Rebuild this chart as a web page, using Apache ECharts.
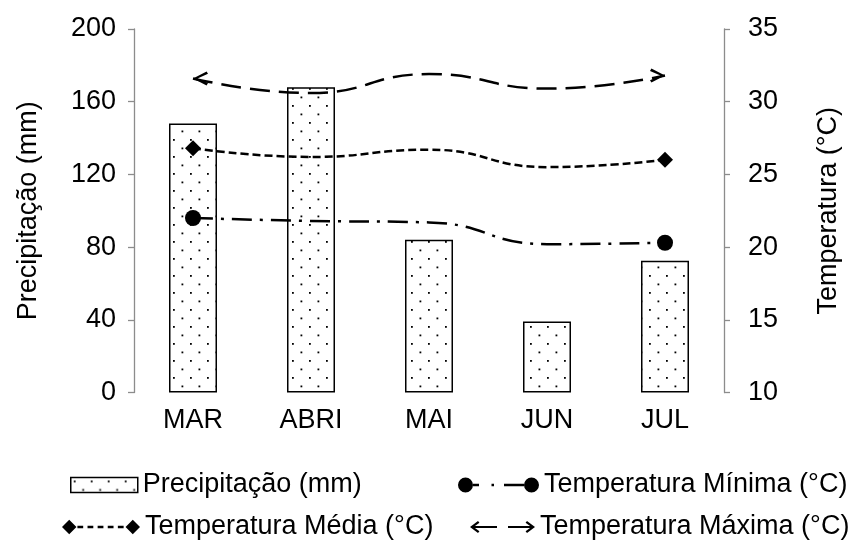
<!DOCTYPE html>
<html>
<head>
<meta charset="utf-8">
<script src="https://cdn.jsdelivr.net/npm/echarts@6/dist/echarts.min.js"></script>
<style>
  html, body { margin: 0; padding: 0; background: #fff; }
  #chart { width: 855px; height: 541px; }
</style>
</head>
<body>
<div id="chart"></div>
<script>
// Monthly rainfall and temperatures
const months = ['MAR', 'ABRI', 'MAI', 'JUN', 'JUL'];
const precipitacao = [148, 168, 84, 39, 72.5];      // mm
const tempMinima = [22.0, 21.8, 21.7, 20.2, 20.3];  // °C
const tempMedia = [26.8, 26.2, 26.7, 25.5, 26.0];   // °C
const tempMaxima = [31.6, 30.6, 31.9, 30.9, 31.8];  // °C

const precipRange = [0, 200];
const precipStep = 40;
const tempRange = [10, 35];
const tempStep = 5;

const names = {
  precip: 'Precipitação (mm)',
  min: 'Temperatura Mínima (°C)',
  med: 'Temperatura Média (°C)',
  max: 'Temperatura Máxima (°C)'
};

const FONT = '"Liberation Sans", Arial, sans-serif';
const FS = 27;

// staggered dot fill for the bars
function dotPattern() {
  const c = document.createElement('canvas');
  c.width = 17; c.height = 17;
  const g = c.getContext('2d');
  g.fillStyle = '#fff';
  g.fillRect(0, 0, 17, 17);
  g.fillStyle = '#000';
  g.fillRect(3, 3, 1.8, 1.8);
  g.fillRect(11.5, 11.5, 1.8, 1.8);
  return c;
}

// open arrow heads for the maximum-temperature line
const headLeft = 'path://M0,7 L13.6,0 L15,2.4 L4.5,7 L15,11.6 L13.6,14 Z';
const headRight = 'path://M15,7 L1.4,14 L0,11.6 L10.5,7 L0,2.4 L1.4,0 Z';

// legend glyphs
const iconMin = 'path://M0,7.5 A7.5,7.5 0 1 1 15,7.5 A7.5,7.5 0 1 1 0,7.5 Z ' +
  'M15,6.25 L21,6.25 L21,8.75 L15,8.75 Z M33.5,6.25 L36,6.25 L36,8.75 L33.5,8.75 Z ' +
  'M46,6.25 L66,6.25 L66,8.75 L46,8.75 Z M66,7.5 A7.5,7.5 0 1 1 81,7.5 A7.5,7.5 0 1 1 66,7.5 Z';
const iconMed = 'path://M0,7.5 L7.5,0 L15,7.5 L7.5,15 Z ' +
  'M16,6.25 L22,6.25 L22,8.75 L16,8.75 Z M26.5,6.25 L32.5,6.25 L32.5,8.75 L26.5,8.75 Z ' +
  'M37,6.25 L43,6.25 L43,8.75 L37,8.75 Z M47.5,6.25 L53.5,6.25 L53.5,8.75 L47.5,8.75 Z ' +
  'M58,6.25 L64,6.25 L64,8.75 L58,8.75 Z M66,7.5 L73.5,0 L81,7.5 L73.5,15 Z';
const iconMax = 'path://M0,6 L8,0 L9.4,1.8 L3.6,6 L9.4,10.2 L8,12 Z M3.6,5 L27,5 L27,7 L3.6,7 Z ' +
  'M65,6 L57,12 L55.6,10.2 L61.4,6 L55.6,1.8 L57,0 Z M38,5 L61.4,5 L61.4,7 L38,7 Z';

function endMarkers(values, first, last) {
  return values.map((v, i) => {
    if (i === 0) return Object.assign({ value: v }, first);
    if (i === values.length - 1) return Object.assign({ value: v }, last);
    return { value: v, symbol: 'none' };
  });
}

const textBase = { color: '#000', fontFamily: FONT, fontSize: FS };

function legendBox(name, left, top, w, h, icon, itemStyle) {
  return {
    show: true,
    left: left, top: top,
    padding: 0,
    itemWidth: w, itemHeight: h,
    selectedMode: false,
    textStyle: Object.assign({ lineHeight: 30 }, textBase),
    itemStyle: itemStyle,
    data: [{ name: name, icon: icon }]
  };
}

const chart = echarts.init(document.getElementById('chart'), null, { renderer: 'canvas' });

const axisGray = '#8c8c8c';

chart.setOption({
  animation: false,
  backgroundColor: '#fff',
  textStyle: { fontFamily: FONT },
  grid: { left: 134, right: 131, top: 29, bottom: 148.5, containLabel: false },
  legend: [
    legendBox(names.precip, 70, 470, 67, 15, 'rect', { borderWidth: 1.5, borderColor: '#000' }),
    legendBox(names.min, 458, 470, 81, 15, iconMin, { color: '#000', borderWidth: 0 }),
    legendBox(names.med, 62, 512, 78, 15 * 78 / 81, iconMed, { color: '#000', borderWidth: 0 }),
    legendBox(names.max, 470, 512, 65, 12, iconMax, { color: '#000', borderWidth: 0 })
  ],
  xAxis: {
    type: 'category',
    data: months,
    axisLine: { show: false },
    axisTick: { show: false },
    axisLabel: Object.assign({ margin: 15 }, textBase)
  },
  yAxis: [
    {
      type: 'value',
      position: 'left',
      min: precipRange[0], max: precipRange[1], interval: precipStep,
      name: names.precip,
      nameLocation: 'middle',
      nameRotate: 90,
      nameGap: 92,
      nameTextStyle: textBase,
      axisLine: { show: true, lineStyle: { color: axisGray, width: 1.3 } },
      axisTick: { show: true, length: 6, lineStyle: { color: axisGray, width: 1.3 } },
      axisLabel: Object.assign({ margin: 18 }, textBase),
      splitLine: { show: false }
    },
    {
      type: 'value',
      position: 'right',
      min: tempRange[0], max: tempRange[1], interval: tempStep,
      name: 'Temperatura (°C)',
      nameLocation: 'middle',
      nameRotate: 90,
      nameGap: 91,
      nameTextStyle: textBase,
      axisLine: { show: true, lineStyle: { color: axisGray, width: 1.3 } },
      axisTick: { show: true, length: 6, lineStyle: { color: axisGray, width: 1.3 } },
      axisLabel: Object.assign({ margin: 24 }, textBase),
      splitLine: { show: false }
    }
  ],
  series: [
    {
      name: names.precip,
      type: 'bar',
      yAxisIndex: 0,
      barWidth: 48,
      data: precipitacao,
      itemStyle: {
        color: { image: dotPattern(), repeat: 'repeat' },
        borderColor: '#000',
        borderWidth: 1.5
      }
    },
    {
      name: names.max,
      type: 'line',
      yAxisIndex: 1,
      smooth: 0.5,
      data: endMarkers(tempMaxima,
        { symbol: headLeft, symbolSize: [15, 14], symbolOffset: [7.5, 0] },
        { symbol: headRight, symbolSize: [15, 14], symbolOffset: [-7.5, 0] }),
      symbol: 'circle',
      lineStyle: { color: '#000', width: 2.5, type: [20, 9], cap: 'butt' },
      itemStyle: { color: '#000', borderWidth: 0 }
    },
    {
      name: names.med,
      type: 'line',
      yAxisIndex: 1,
      smooth: 0.5,
      data: endMarkers(tempMedia,
        { symbol: 'diamond', symbolSize: 16 },
        { symbol: 'diamond', symbolSize: 16 }),
      symbol: 'diamond',
      lineStyle: { color: '#000', width: 2.5, type: [8, 4], cap: 'butt' },
      itemStyle: { color: '#000', borderWidth: 0 }
    },
    {
      name: names.min,
      type: 'line',
      yAxisIndex: 1,
      smooth: 0.5,
      data: endMarkers(tempMinima,
        { symbol: 'circle', symbolSize: 16 },
        { symbol: 'circle', symbolSize: 16 }),
      symbol: 'circle',
      lineStyle: { color: '#000', width: 2.5, type: [20, 8, 3, 8], cap: 'butt' },
      itemStyle: { color: '#000', borderWidth: 0 }
    }
  ]
});
</script>
</body>
</html>
